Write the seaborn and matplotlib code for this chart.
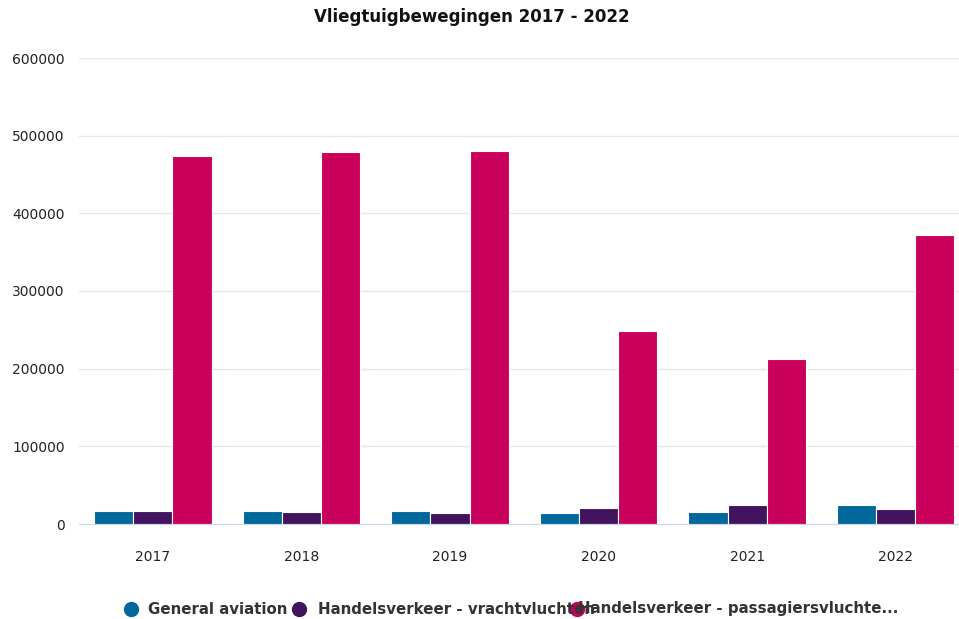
import numpy as np
import pandas as pd
import matplotlib
matplotlib.use("Agg")
import matplotlib.pyplot as plt
import seaborn as sns
from matplotlib.lines import Line2D

# Data
years = ["2017", "2018", "2019", "2020", "2021", "2022"]
general_aviation = [16700, 16700, 16700, 13800, 15500, 24000]
vrachtvluchten = [16700, 15000, 13800, 20200, 24000, 19000]
passagiersvluchten = [474000, 479000, 480500, 248500, 212500, 372000]

series_names = ["General aviation",
                "Handelsverkeer - vrachtvluchten",
                "Handelsverkeer - passagiersvluchten"]
colors = ["#01689B", "#42145F", "#CA005D"]

df = pd.DataFrame({
    "jaar": years * 3,
    "soort": [series_names[0]] * 6 + [series_names[1]] * 6 + [series_names[2]] * 6,
    "aantal": general_aviation + vrachtvluchten + passagiersvluchten,
})

sns.set_style("white")
plt.rcParams['font.family'] = ['DejaVu Sans']

W, H = 959, 619
fig = plt.figure(figsize=(W / 100, H / 100), dpi=100)
# axes extends a bit past the right edge, like the cropped original
ax = fig.add_axes([78.6 / W, (H - 524) / H, (970 - 78.6) / W, (524 - 58) / H])

sns.barplot(data=df, x="jaar", y="aantal", hue="soort", hue_order=series_names,
            palette=colors, width=0.79, ax=ax, legend=False,
            edgecolor="white", linewidth=0.8, saturation=1)

ax.set_ylim(0, 600000)
ax.set_yticks(np.arange(0, 600001, 100000))
ax.set_yticklabels([str(v) for v in range(0, 600001, 100000)])
ax.yaxis.grid(True, color="#e6e6e6", linewidth=1)
ax.set_axisbelow(True)
for s in ["top", "right", "left"]:
    ax.spines[s].set_visible(False)
ax.spines["bottom"].set_color("#ccd6eb")
ax.tick_params(axis="y", length=0, pad=10, labelsize=10, labelcolor="#222222")
ax.tick_params(axis="x", length=0, pad=19, labelsize=10, labelcolor="#222222")
ax.set_xlabel("")
ax.set_ylabel("")

fig.text(472 / W, (H - 17) / H, "Vliegtuigbewegingen 2017 - 2022", ha="center", va="center",
         fontsize=12, fontweight="bold", color="#111111")

# legend drawn by hand, overlapping as in the original
leg_y = (H - 609) / H
markers_x = [131, 299, 577]
texts_x = [148, 318, 578]
labels = ["General aviation", "Handelsverkeer - vrachtvluchten",
          "Handelsverkeer - passagiersvluchte..."]
for mx, tx, lab, c in zip(markers_x, texts_x, labels, colors):
    fig.add_artist(Line2D([mx / W], [leg_y], marker="o", markersize=10, color=c,
                          linestyle="none", transform=fig.transFigure))
    fig.text(tx / W, leg_y, lab, ha="left", va="center", fontsize=10.8,
             fontweight="bold", color="#333333")

fig.savefig("out.png", dpi=100)
